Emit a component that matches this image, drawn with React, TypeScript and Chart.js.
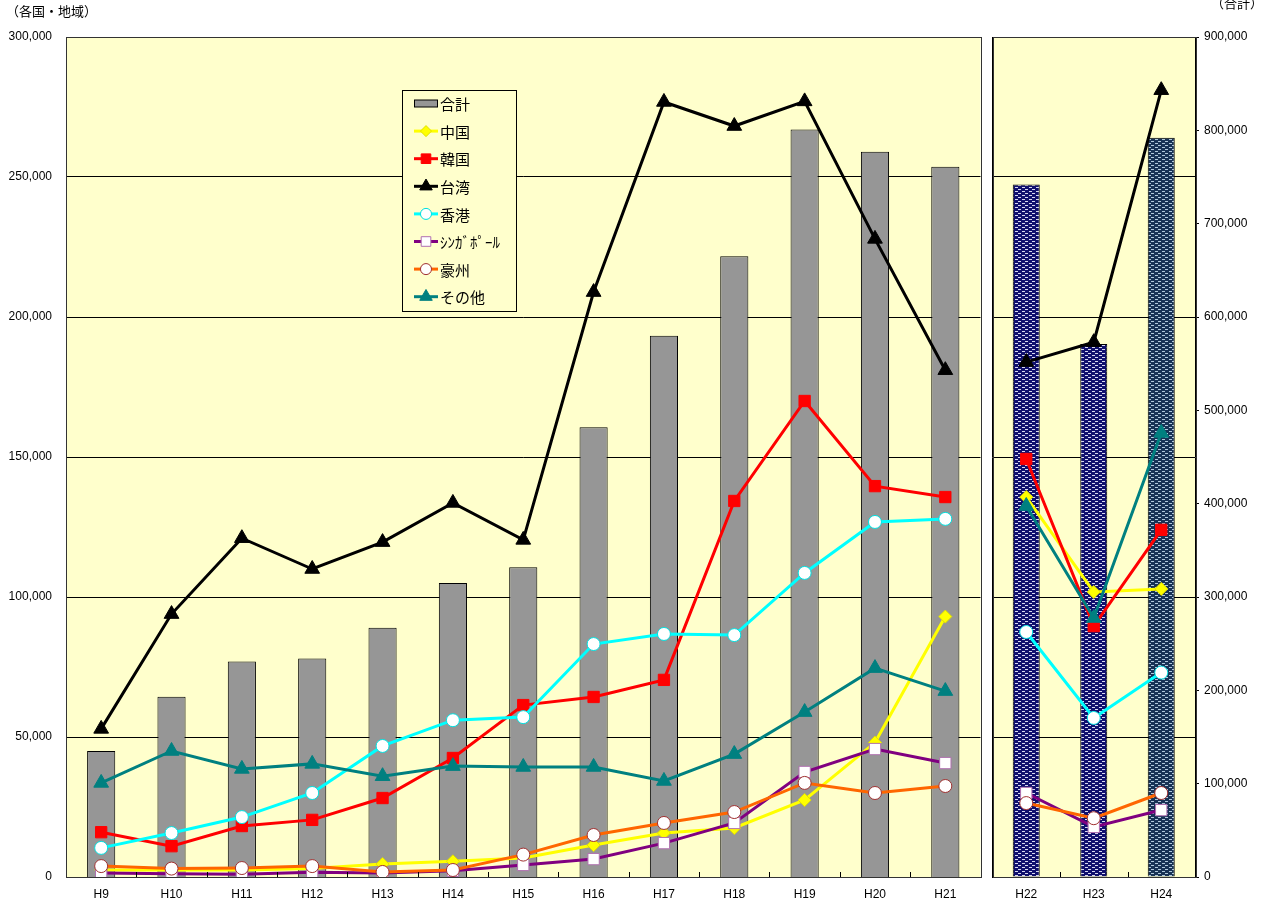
import React, { useEffect, useRef } from 'react';
import { Chart, registerables } from 'chart.js';
Chart.register(...registerables);

// ---- data ----
const categoriesLeft = ['H9', 'H10', 'H11', 'H12', 'H13', 'H14', 'H15', 'H16', 'H17', 'H18', 'H19', 'H20', 'H21'];
const categoriesRight = ['H22', 'H23', 'H24'];

const totalLeft = [135000, 193000, 231000, 234000, 267000, 315000, 332000, 482000, 580000, 665000, 801000, 777000, 761000];
const totalRight = [742000, 571000, 792000];

// one value per category, H9..H24
const china = [2500, 2500, 2500, 3000, 4600, 5600, 6800, 11400, 15700, 17500, 27500, 48000, 93000, 135700, 101800, 102900];
const korea = [16000, 11000, 18200, 20400, 28200, 42500, 61400, 64300, 70400, 134300, 170000, 139600, 135700, 149300, 89600, 124000];
const taiwan = [52900, 93900, 121000, 110000, 119600, 133600, 120400, 208900, 276800, 268200, 277000, 227900, 181000, 183900, 191000, 281000];
const hongkong = [10400, 15700, 21400, 30000, 46800, 56000, 57100, 83200, 86800, 86400, 108600, 126800, 127900, 87500, 56800, 73000];
const singapore = [1400, 1200, 1000, 1700, 1400, 2200, 4300, 6400, 12100, 19300, 37500, 45700, 40700, 30000, 17900, 23900];
const australia = [3900, 3000, 3200, 3900, 1800, 2500, 8000, 15000, 19300, 23200, 33600, 30000, 32500, 26400, 21000, 30000];
const others = [33600, 45000, 38600, 40400, 36000, 39600, 39300, 39300, 34300, 43900, 58900, 74600, 66400, 132500, 92500, 158600];

const leftTicks = { min: 0, max: 300000, step: 50000 };
const rightTicks = { min: 0, max: 900000, step: 100000 };

const totalLabel = '合計';
const seriesNames = ['中国', '韓国', '台湾', '香港', 'ｼﾝｶﾞﾎﾟｰﾙ', '豪州', 'その他'];
const seriesValues = [china, korea, taiwan, hongkong, singapore, australia, others];

// ---- styles ----
const seriesStyles = [
  { color: '#FFFF00', point: 'rectRot', radius: 6.5, fill: '#FFFF00', stroke: '#E0E000' },
  { color: '#FF0000', point: 'rect', radius: 8, fill: '#FF0000', stroke: '#FF0000' },
  { color: '#000000', point: 'triangle', radius: 8.5, fill: '#000000', stroke: '#000000' },
  { color: '#00FFFF', point: 'circle', radius: 6.5, fill: '#FFFFFF', stroke: '#00E0E0' },
  { color: '#800080', point: 'rect', radius: 8, fill: '#FFFFFF', stroke: '#B070B0' },
  { color: '#FF6600', point: 'circle', radius: 6.5, fill: '#FFFFFF', stroke: '#A03030' },
  { color: '#008080', point: 'triangle', radius: 8.5, fill: '#008080', stroke: '#008080' },
];

const PLOT_BG = '#FFFFCC';
const BAR_GREY = '#969696';
const FONT = { family: '"Liberation Sans", Arial, sans-serif', size: 12 };
const JP_FONT = '"Noto Sans CJK JP", sans-serif';

function fmt(v: number) {
  return Number(v).toLocaleString('en-US');
}

function makePattern(bg: string, dash: string): CanvasPattern | string {
  const c = document.createElement('canvas');
  c.width = 7;
  c.height = 4;
  const x = c.getContext('2d');
  if (!x) return bg;
  x.fillStyle = bg;
  x.fillRect(0, 0, 7, 4);
  x.fillStyle = dash;
  x.fillRect(0, 1, 3, 1);
  x.fillRect(4, 3, 3, 1);
  const p = x.createPattern(c, 'repeat');
  return p || bg;
}

function drawMarker(ctx: CanvasRenderingContext2D, style: string, x: number, y: number, r: number, fill: string, stroke: string) {
  ctx.save();
  ctx.beginPath();
  if (style === 'circle') {
    ctx.arc(x, y, r, 0, Math.PI * 2);
  } else if (style === 'rect') {
    const s = Math.SQRT1_2 * r;
    ctx.rect(x - s, y - s, 2 * s, 2 * s);
  } else if (style === 'rectRot') {
    ctx.moveTo(x - r, y);
    ctx.lineTo(x, y - r);
    ctx.lineTo(x + r, y);
    ctx.lineTo(x, y + r);
    ctx.closePath();
  } else if (style === 'triangle') {
    const h = r * 1.5;
    const w = r * Math.sqrt(3) / 2;
    ctx.moveTo(x, y - r);
    ctx.lineTo(x + w, y - r + h);
    ctx.lineTo(x - w, y - r + h);
    ctx.closePath();
  }
  ctx.fillStyle = fill;
  ctx.fill();
  ctx.lineWidth = 1;
  ctx.strokeStyle = stroke;
  ctx.stroke();
  ctx.restore();
}

const panelPlugin = {
  id: 'panel',
  beforeDraw(chart: any) {
    const { ctx, chartArea: a } = chart;
    ctx.save();
    ctx.fillStyle = PLOT_BG;
    ctx.fillRect(a.left, a.top, a.right - a.left, a.bottom - a.top);
    ctx.restore();
  },
  afterDraw(chart: any) {
    const { ctx, chartArea: a } = chart;
    ctx.save();
    // inner tick marks on category boundaries
    const n = chart.data.labels.length;
    const w = (a.right - a.left) / n;
    ctx.strokeStyle = '#000';
    ctx.lineWidth = 1;
    ctx.beginPath();
    for (let i = 1; i < n; i++) {
      const x = Math.round(a.left + i * w) + 0.5;
      ctx.moveTo(x, a.bottom);
      ctx.lineTo(x, a.bottom - 5);
    }
    ctx.stroke();
    ctx.strokeStyle = '#333';
    ctx.strokeRect(Math.round(a.left) + 0.5, Math.round(a.top) + 0.5, Math.round(a.right - a.left), Math.round(a.bottom - a.top));
    ctx.restore();
  },
};

const legendPlugin = {
  id: 'customLegend',
  afterDraw(chart: any) {
    const { ctx, chartArea: a } = chart;
    const bx = a.left + 336;
    const by = a.top + 53;
    const bw = 114;
    const bh = 221;
    ctx.save();
    ctx.fillStyle = PLOT_BG;
    ctx.fillRect(bx + 0.5, by + 0.5, bw, bh);
    ctx.strokeStyle = '#000';
    ctx.lineWidth = 1;
    ctx.strokeRect(bx + 0.5, by + 0.5, bw, bh);
    const step = 27.6;
    const y0 = by + 13.5;
    ctx.font = `15px ${JP_FONT}`;
    ctx.textBaseline = 'middle';
    const lx1 = bx + 12;
    const lx2 = bx + 36;
    // total
    ctx.fillStyle = BAR_GREY;
    ctx.fillRect(lx1, y0 - 3.5, lx2 - lx1, 7);
    ctx.strokeStyle = '#000';
    ctx.strokeRect(lx1 + 0.5, y0 - 3.5, lx2 - lx1 - 1, 7);
    ctx.fillStyle = '#000';
    ctx.fillText(totalLabel, lx2 + 2, y0 + 1);
    seriesNames.forEach((name, i) => {
      const y = y0 + (i + 1) * step;
      const s = seriesStyles[i];
      ctx.strokeStyle = s.color;
      ctx.lineWidth = 3;
      ctx.beginPath();
      ctx.moveTo(lx1, y);
      ctx.lineTo(lx2, y);
      ctx.stroke();
      drawMarker(ctx, s.point, (lx1 + lx2) / 2, y, s.radius * 0.85, s.fill, s.stroke);
      ctx.fillStyle = '#000';
      ctx.fillText(name, lx2 + 2, y + 1);
    });
    ctx.restore();
  },
};

function lineDatasets(from: number, to: number) {
  return seriesNames.map((name, i) => {
    const s = seriesStyles[i];
    return {
      type: 'line' as const,
      label: name,
      data: seriesValues[i].slice(from, to),
      yAxisID: 'y',
      borderColor: s.color,
      borderWidth: 3,
      tension: 0,
      pointStyle: s.point,
      pointRadius: s.radius,
      pointBackgroundColor: s.fill,
      pointBorderColor: s.stroke,
      pointBorderWidth: 1,
      order: 1 + (seriesNames.length - i),
    };
  });
}

export default function App() {
  const leftRef = useRef<HTMLCanvasElement>(null);
  const rightRef = useRef<HTMLCanvasElement>(null);

  useEffect(() => {
    const left = new Chart(leftRef.current as HTMLCanvasElement, {
      type: 'bar',
      data: {
        labels: categoriesLeft,
        datasets: [
          {
            type: 'bar',
            label: totalLabel,
            data: totalLeft,
            yAxisID: 'y2',
            backgroundColor: BAR_GREY,
            borderColor: '#000',
            borderWidth: 1,
            barPercentage: 0.4,
            categoryPercentage: 1,
            order: 20,
          } as any,
          ...(lineDatasets(0, 13) as any[]),
        ],
      },
      options: {
        animation: false,
        responsive: false,
        maintainAspectRatio: false,
        layout: { padding: { top: 37, right: 7, left: 0, bottom: 0 } },
        plugins: { legend: { display: false }, tooltip: { enabled: false } },
        scales: {
          x: {
            grid: { display: false },
            border: { color: '#000' },
            ticks: { font: FONT, color: '#000', padding: 2, maxRotation: 0 },
            afterFit: (s: any) => { s.height = 26; },
          },
          y: {
            position: 'left',
            min: leftTicks.min,
            max: leftTicks.max,
            ticks: { stepSize: leftTicks.step, font: FONT, color: '#000', padding: 14, callback: (v: any) => fmt(v) },
            grid: { color: '#000', lineWidth: 1, drawTicks: false },
            border: { color: '#000' },
            afterFit: (s: any) => { s.width = 66; },
          },
          y2: {
            display: false,
            position: 'right',
            min: rightTicks.min,
            max: rightTicks.max,
          },
        },
      } as any,
      plugins: [panelPlugin, legendPlugin],
    });

    const p1 = makePattern('#10106e', '#d8d8f0');
    const p2 = makePattern('#173256', '#b0c8dc');
    const right = new Chart(rightRef.current as HTMLCanvasElement, {
      type: 'bar',
      data: {
        labels: categoriesRight,
        datasets: [
          {
            type: 'bar',
            label: totalLabel,
            data: totalRight,
            yAxisID: 'y2',
            backgroundColor: [p1, p1, p2],
            borderColor: '#000',
            borderWidth: 1,
            barPercentage: 0.4,
            categoryPercentage: 1,
            order: 20,
          } as any,
          ...(lineDatasets(13, 16) as any[]),
        ],
      },
      options: {
        animation: false,
        responsive: false,
        maintainAspectRatio: false,
        layout: { padding: { top: 37, right: 0, left: 0, bottom: 0 } },
        plugins: { legend: { display: false }, tooltip: { enabled: false } },
        scales: {
          x: {
            grid: { display: false },
            border: { color: '#000' },
            ticks: { font: FONT, color: '#000', padding: 2, maxRotation: 0 },
            afterFit: (s: any) => { s.height = 26; },
          },
          y: {
            position: 'left',
            min: leftTicks.min,
            max: leftTicks.max,
            ticks: { stepSize: leftTicks.step, display: false },
            grid: { color: '#000', lineWidth: 1, drawTicks: false },
            border: { color: '#000' },
            afterFit: (s: any) => { s.width = 0; },
          },
          y2: {
            position: 'right',
            min: rightTicks.min,
            max: rightTicks.max,
            ticks: { stepSize: rightTicks.step, font: FONT, color: '#000', padding: 5, callback: (v: any) => fmt(v) },
            grid: { drawOnChartArea: false, color: '#000', tickLength: 4 },
            border: { color: '#000' },
            afterFit: (s: any) => { s.width = 67; },
          },
        },
      } as any,
      plugins: [panelPlugin],
    });

    return () => {
      left.destroy();
      right.destroy();
    };
  }, []);

  return (
    <div style={{ position: 'absolute', left: 0, top: 0, width: 1262, height: 903, background: '#fff', overflow: 'hidden' }}>
      <canvas ref={leftRef} width={990} height={903} style={{ position: 'absolute', left: 0, top: 0, width: 990, height: 903 }} />
      <canvas ref={rightRef} width={279} height={903} style={{ position: 'absolute', left: 983, top: 0, width: 279, height: 903 }} />
      <div style={{ position: 'absolute', left: 6, top: 2, fontFamily: JP_FONT, fontSize: 13, color: '#000', lineHeight: '18px' }}>（各国・地域）</div>
      <div style={{ position: 'absolute', left: 1211, top: -6, fontFamily: JP_FONT, fontSize: 13, color: '#000', lineHeight: '18px' }}>（合計）</div>
    </div>
  );
}
